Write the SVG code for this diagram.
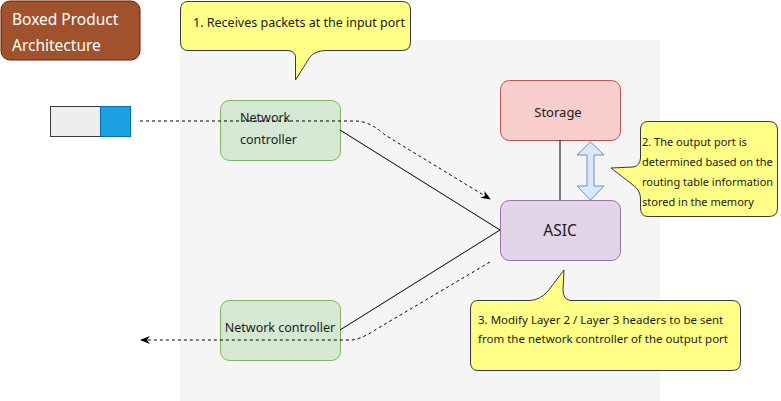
<svg xmlns="http://www.w3.org/2000/svg" width="781" height="401" viewBox="0 0 781 401">
<defs>
<style>
.t{font-family:"Noto Sans","Open Sans","Liberation Sans",sans-serif;fill:#1a1a1a}
.call{fill:#ffff88;stroke:#36393d;stroke-width:1}
.dash{fill:none;stroke:#000;stroke-width:1;stroke-dasharray:3 3}
.solid{fill:none;stroke:#000;stroke-width:1}
</style>
<marker id="ah" viewBox="0 0 10 10" refX="9" refY="5" markerWidth="10" markerHeight="10" markerUnits="userSpaceOnUse" orient="auto">
<path d="M0,1 L10,5 L0,9 L3,5 Z" fill="#000"/>
</marker>
</defs>
<rect x="180" y="40" width="480" height="361" fill="#f5f5f5"/>
<g id="title">
<rect x="1" y="1" width="139" height="59" rx="9" fill="#a0522d" stroke="#6d1f00"/>
<text class="t" x="12" y="25" font-size="15.5" style="fill:#fff">Boxed Product</text>
<text class="t" x="12" y="51" font-size="15.5" style="fill:#fff">Architecture</text>
</g>
<g id="packet">
<rect x="50.5" y="106.5" width="50" height="30" fill="#eeeeee" stroke="#36393d"/>
<rect x="100.5" y="106.5" width="30" height="30" fill="#1ba1e2" stroke="#006eaf"/>
</g>
<g id="nc1">
<rect x="220.5" y="100.5" width="120" height="60" rx="9" fill="#d5e8d4" stroke="#82b366"/>
<text class="t" x="240" y="122" font-size="12.5">Network</text>
<text class="t" x="240" y="144" font-size="12.5">controller</text>
</g>
<g id="nc2">
<rect x="220.5" y="300.5" width="120" height="60" rx="9" fill="#d5e8d4" stroke="#82b366"/>
<text class="t" x="280" y="332" font-size="12.5" text-anchor="middle">Network controller</text>
</g>
<g id="storage">
<rect x="500.5" y="80.5" width="120" height="60" rx="9" fill="#f8cecc" stroke="#b85450"/>
<text class="t" x="558" y="117" font-size="13" text-anchor="middle">Storage</text>
</g>
<g id="asic">
<rect x="500.5" y="200.5" width="120" height="60" rx="9" fill="#e1d5e7" stroke="#9673a6"/>
<text class="t" x="560" y="236" font-size="15.5" text-anchor="middle">ASIC</text>
</g>
<g id="connectors">
<path class="dash" d="M140,121 L355,121 Q370,121 385,135 L490,199" marker-end="url(#ah)"/>
<path class="solid" d="M340,130 L500,230"/>
<path class="solid" d="M340,330 L500,230"/>
<path class="dash" d="M490,262 L375,330 Q360,340 350,340 L141,340" marker-end="url(#ah)"/>
<path class="solid" d="M560,140 L560,200"/>
<path d="M590.5,142 L604,155 L594,155 L594,186 L604,186 L590.5,200 L577,186 L587,186 L587,155 L577,155 Z" fill="#dae8fc" stroke="#6c8ebf"/>
</g>
<g id="callout1">
<path class="call" d="M188,1.5 L402,1.5 Q410.5,1.5 410.5,10 L410.5,42 Q410.5,50.5 402,50.5 L325,50.5 Q315,51 310,57 L295.5,80 L295.5,57 Q295,51 288,50.5 L188,50.5 Q180.5,50.5 180.5,42 L180.5,10 Q180.5,1.5 188,1.5 Z"/>
<text class="t" x="193" y="27" font-size="12.5">1. Receives packets at the input port</text>
</g>
<g id="callout2">
<path class="call" d="M648,121.5 L769,121.5 Q777.5,121.5 777.5,130 L777.5,208 Q777.5,216.5 769,216.5 L648,216.5 Q640.5,216.5 640.5,208 L640.5,198 Q640,190 633,185 L611,168 L633,167 Q640,166 640.5,158 L640.5,130 Q640.5,121.5 648,121.5 Z"/>
<text class="t" x="642" y="146" font-size="11">2. The output port is</text>
<text class="t" x="642" y="166" font-size="11">determined based on the</text>
<text class="t" x="642" y="186" font-size="11">routing table information</text>
<text class="t" x="642" y="206" font-size="11">stored in the memory</text>
</g>
<g id="callout3">
<path class="call" d="M478,300.5 L530,300.5 Q540,300 548,291 L564,270 L563,290 Q563,299 570,300.5 L732,300.5 Q740.5,300.5 740.5,309 L740.5,362 Q740.5,370.5 732,370.5 L478,370.5 Q470.5,370.5 470.5,362 L470.5,309 Q470.5,300.5 478,300.5 Z"/>
<text class="t" x="478" y="324" font-size="11.5">3. Modify Layer 2 / Layer 3 headers to be sent</text>
<text class="t" x="478" y="343" font-size="11.5">from the network controller of the output port</text>
</g>
</svg>
